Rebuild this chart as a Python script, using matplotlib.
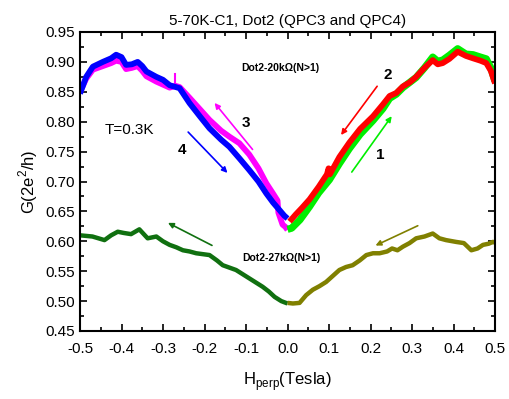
import numpy as np
import matplotlib.pyplot as plt
from matplotlib.ticker import MultipleLocator

plt.rcParams['font.family'] = ['Liberation Sans', 'DejaVu Sans']

# trace 4 (blue), sweep 0 -> -0.5
blue_x = [-0.5, -0.485, -0.469, -0.445, -0.425, -0.413, -0.40, -0.389, -0.375, -0.361, -0.350, -0.340,
          -0.316, -0.300, -0.284, -0.260, -0.236, -0.210, -0.188, -0.160, -0.140, -0.115, -0.092,
          -0.070, -0.051, -0.035, -0.019, -0.008, 0.0]
blue_y = [0.847, 0.875, 0.892, 0.900, 0.906, 0.912, 0.908, 0.895, 0.896, 0.900, 0.893, 0.884,
          0.875, 0.870, 0.861, 0.856, 0.831, 0.808, 0.789, 0.770, 0.758, 0.738, 0.719,
          0.700, 0.680, 0.665, 0.652, 0.643, 0.638]

# trace 3 (magenta)
mag_x = [-0.5, -0.485, -0.469, -0.445, -0.425, -0.413, -0.40, -0.389, -0.375, -0.361, -0.350, -0.340,
         -0.316, -0.300, -0.284, -0.270, -0.260, -0.236, -0.210, -0.188, -0.160, -0.140,
         -0.116, -0.092, -0.070, -0.051, -0.035, -0.024, -0.022, -0.012, -0.005, 0.0]
mag_y = [0.850, 0.872, 0.887, 0.893, 0.898, 0.902, 0.900, 0.888, 0.890, 0.893, 0.885, 0.876,
         0.867, 0.862, 0.857, 0.860, 0.858, 0.840, 0.820, 0.803, 0.785, 0.775,
         0.764, 0.745, 0.722, 0.697, 0.680, 0.668, 0.648, 0.628, 0.624, 0.619]
# thin glitch in trace 3
spike_x = [-0.270, -0.270]
spike_y = [0.857, 0.880]

# trace 1 (green), sweep 0 -> 0.5
grn_x = [0.0, 0.01, 0.03, 0.053, 0.075, 0.101, 0.125, 0.149, 0.175, 0.206, 0.230, 0.246, 0.262, 0.278,
         0.295, 0.310, 0.330, 0.350, 0.362, 0.374, 0.390, 0.410, 0.430, 0.447, 0.465, 0.479, 0.490, 0.5]
grn_y = [0.620, 0.622, 0.636, 0.658, 0.681, 0.703, 0.730, 0.755, 0.779, 0.802, 0.822, 0.839, 0.846, 0.857,
         0.866, 0.874, 0.890, 0.908, 0.901, 0.903, 0.911, 0.922, 0.913, 0.912, 0.908, 0.905, 0.890, 0.868]

# trace 2 (red)
red_x = [0.005, 0.02, 0.035, 0.053, 0.075, 0.095, 0.099, 0.102, 0.125, 0.149, 0.175, 0.206, 0.230,
         0.246, 0.262, 0.278, 0.295, 0.310, 0.330, 0.350, 0.362, 0.374, 0.390, 0.410, 0.430, 0.447,
         0.465, 0.479, 0.490, 0.5]
red_y = [0.633, 0.645, 0.656, 0.670, 0.691, 0.712, 0.722, 0.712, 0.741, 0.765, 0.788, 0.809, 0.829,
         0.843, 0.848, 0.859, 0.866, 0.875, 0.890, 0.903, 0.896, 0.898, 0.905, 0.917, 0.910, 0.906,
         0.902, 0.898, 0.885, 0.864]

# Dot2-27kOhm, left half (dark green)
dg_x = [-0.5, -0.47, -0.441, -0.425, -0.409, -0.395, -0.377, -0.357, -0.337, -0.316, -0.300, -0.284,
        -0.268, -0.252, -0.236, -0.220, -0.188, -0.170, -0.156, -0.140, -0.124, -0.108, -0.092,
        -0.076, -0.060, -0.045, -0.031, -0.015, 0.0]
dg_y = [0.610, 0.608, 0.602, 0.610, 0.616, 0.614, 0.612, 0.620, 0.605, 0.608, 0.600, 0.594,
        0.590, 0.585, 0.583, 0.580, 0.577, 0.568, 0.560, 0.556, 0.552, 0.545, 0.538,
        0.531, 0.524, 0.516, 0.507, 0.500, 0.496]

# Dot2-27kOhm, right half (olive)
ol_x = [0.0, 0.013, 0.029, 0.045, 0.061, 0.077, 0.093, 0.109, 0.125, 0.141, 0.157, 0.174, 0.190,
        0.206, 0.222, 0.240, 0.252, 0.265, 0.278, 0.294, 0.310, 0.330, 0.350, 0.366, 0.382, 0.406,
        0.425, 0.443, 0.458, 0.471, 0.485, 0.495, 0.5]
ol_y = [0.497, 0.496, 0.497, 0.510, 0.519, 0.525, 0.532, 0.542, 0.552, 0.557, 0.560, 0.568, 0.577,
        0.580, 0.580, 0.583, 0.588, 0.585, 0.591, 0.597, 0.605, 0.608, 0.613, 0.605, 0.602, 0.599,
        0.597, 0.585, 0.588, 0.594, 0.596, 0.599, 0.598]

fig = plt.figure(figsize=(5.09, 3.99), dpi=100)
ax = fig.add_axes([80 / 509, 1 - 331 / 399, 415 / 509, 299 / 399])

lw = 4.2
ax.plot(mag_x, mag_y, color='#ff00ff', lw=lw, solid_capstyle='butt')
ax.plot(spike_x, spike_y, color='#ff00ff', lw=1.5)
ax.plot(blue_x, blue_y, color='#0000ff', lw=lw, solid_capstyle='butt')
ax.plot(grn_x, grn_y, color='#00ee00', lw=lw + 1, solid_capstyle='butt')
ax.plot(red_x, red_y, color='#ff0000', lw=lw, solid_capstyle='butt')
ax.plot(dg_x, dg_y, color='#107010', lw=3.2, solid_capstyle='butt')
ax.plot(ol_x, ol_y, color='#808000', lw=3.2, solid_capstyle='butt')

def arrow(x0, y0, x1, y1, c):
    ax.annotate('', xy=(x1, y1), xytext=(x0, y0),
                arrowprops=dict(arrowstyle='-|>', color=c, lw=1.2, mutation_scale=8))

arrow(-0.176, 0.591, -0.294, 0.633, '#107010')
arrow(0.320, 0.628, 0.206, 0.591, '#808000')
arrow(-0.244, 0.786, -0.140, 0.711, '#0000ff')
arrow(-0.080, 0.750, -0.180, 0.835, '#ff00ff')
arrow(0.220, 0.863, 0.125, 0.774, '#ff0000')
arrow(0.151, 0.712, 0.255, 0.813, '#00ee00')

ax.text(-0.100, 0.797, '3', fontsize=11, fontweight='bold', ha='center', va='center')
ax.text(-0.254, 0.753, '4', fontsize=11, fontweight='bold', ha='center', va='center')
ax.text(0.242, 0.878, '2', fontsize=11, fontweight='bold', ha='center', va='center')
ax.text(0.223, 0.744, '1', fontsize=11, fontweight='bold', ha='center', va='center')
ax.text(-0.44, 0.786, 'T=0.3K', fontsize=11, ha='left', va='center')
ax.text(-0.112, 0.890, 'Dot2-20k\u03a9(N>1)', fontsize=7.5, fontweight='bold', ha='left', va='center')
ax.text(-0.108, 0.572, 'Dot2-27k\u03a9(N>1)', fontsize=7.5, fontweight='bold', ha='left', va='center')

ax.set_xlim(-0.5, 0.5)
ax.set_ylim(0.45, 0.95)
ax.xaxis.set_major_locator(MultipleLocator(0.1))
ax.xaxis.set_minor_locator(MultipleLocator(0.05))
ax.yaxis.set_major_locator(MultipleLocator(0.05))
ax.yaxis.set_minor_locator(MultipleLocator(0.025))
ax.xaxis.set_major_formatter(plt.FormatStrFormatter('%.1f'))
ax.yaxis.set_major_formatter(plt.FormatStrFormatter('%.2f'))
ax.tick_params(which='both', direction='in', top=True, right=True, width=1.2, labelsize=11)
ax.tick_params(which='major', length=5)
ax.tick_params(which='minor', length=3)
ax.tick_params(axis='x', pad=8)
for s in ax.spines.values():
    s.set_linewidth(1.5)

ax.set_title('5-70K-C1, Dot2 (QPC3 and QPC4)', fontsize=11, pad=5)
ax.set_xlabel(r'H$_{\mathregular{perp}}$(Tesla)', fontsize=12, labelpad=10)
ax.set_ylabel(r'G(2e$^{\mathregular{2}}$/h)', fontsize=12, labelpad=4)

fig.savefig('out.png', dpi=100)
